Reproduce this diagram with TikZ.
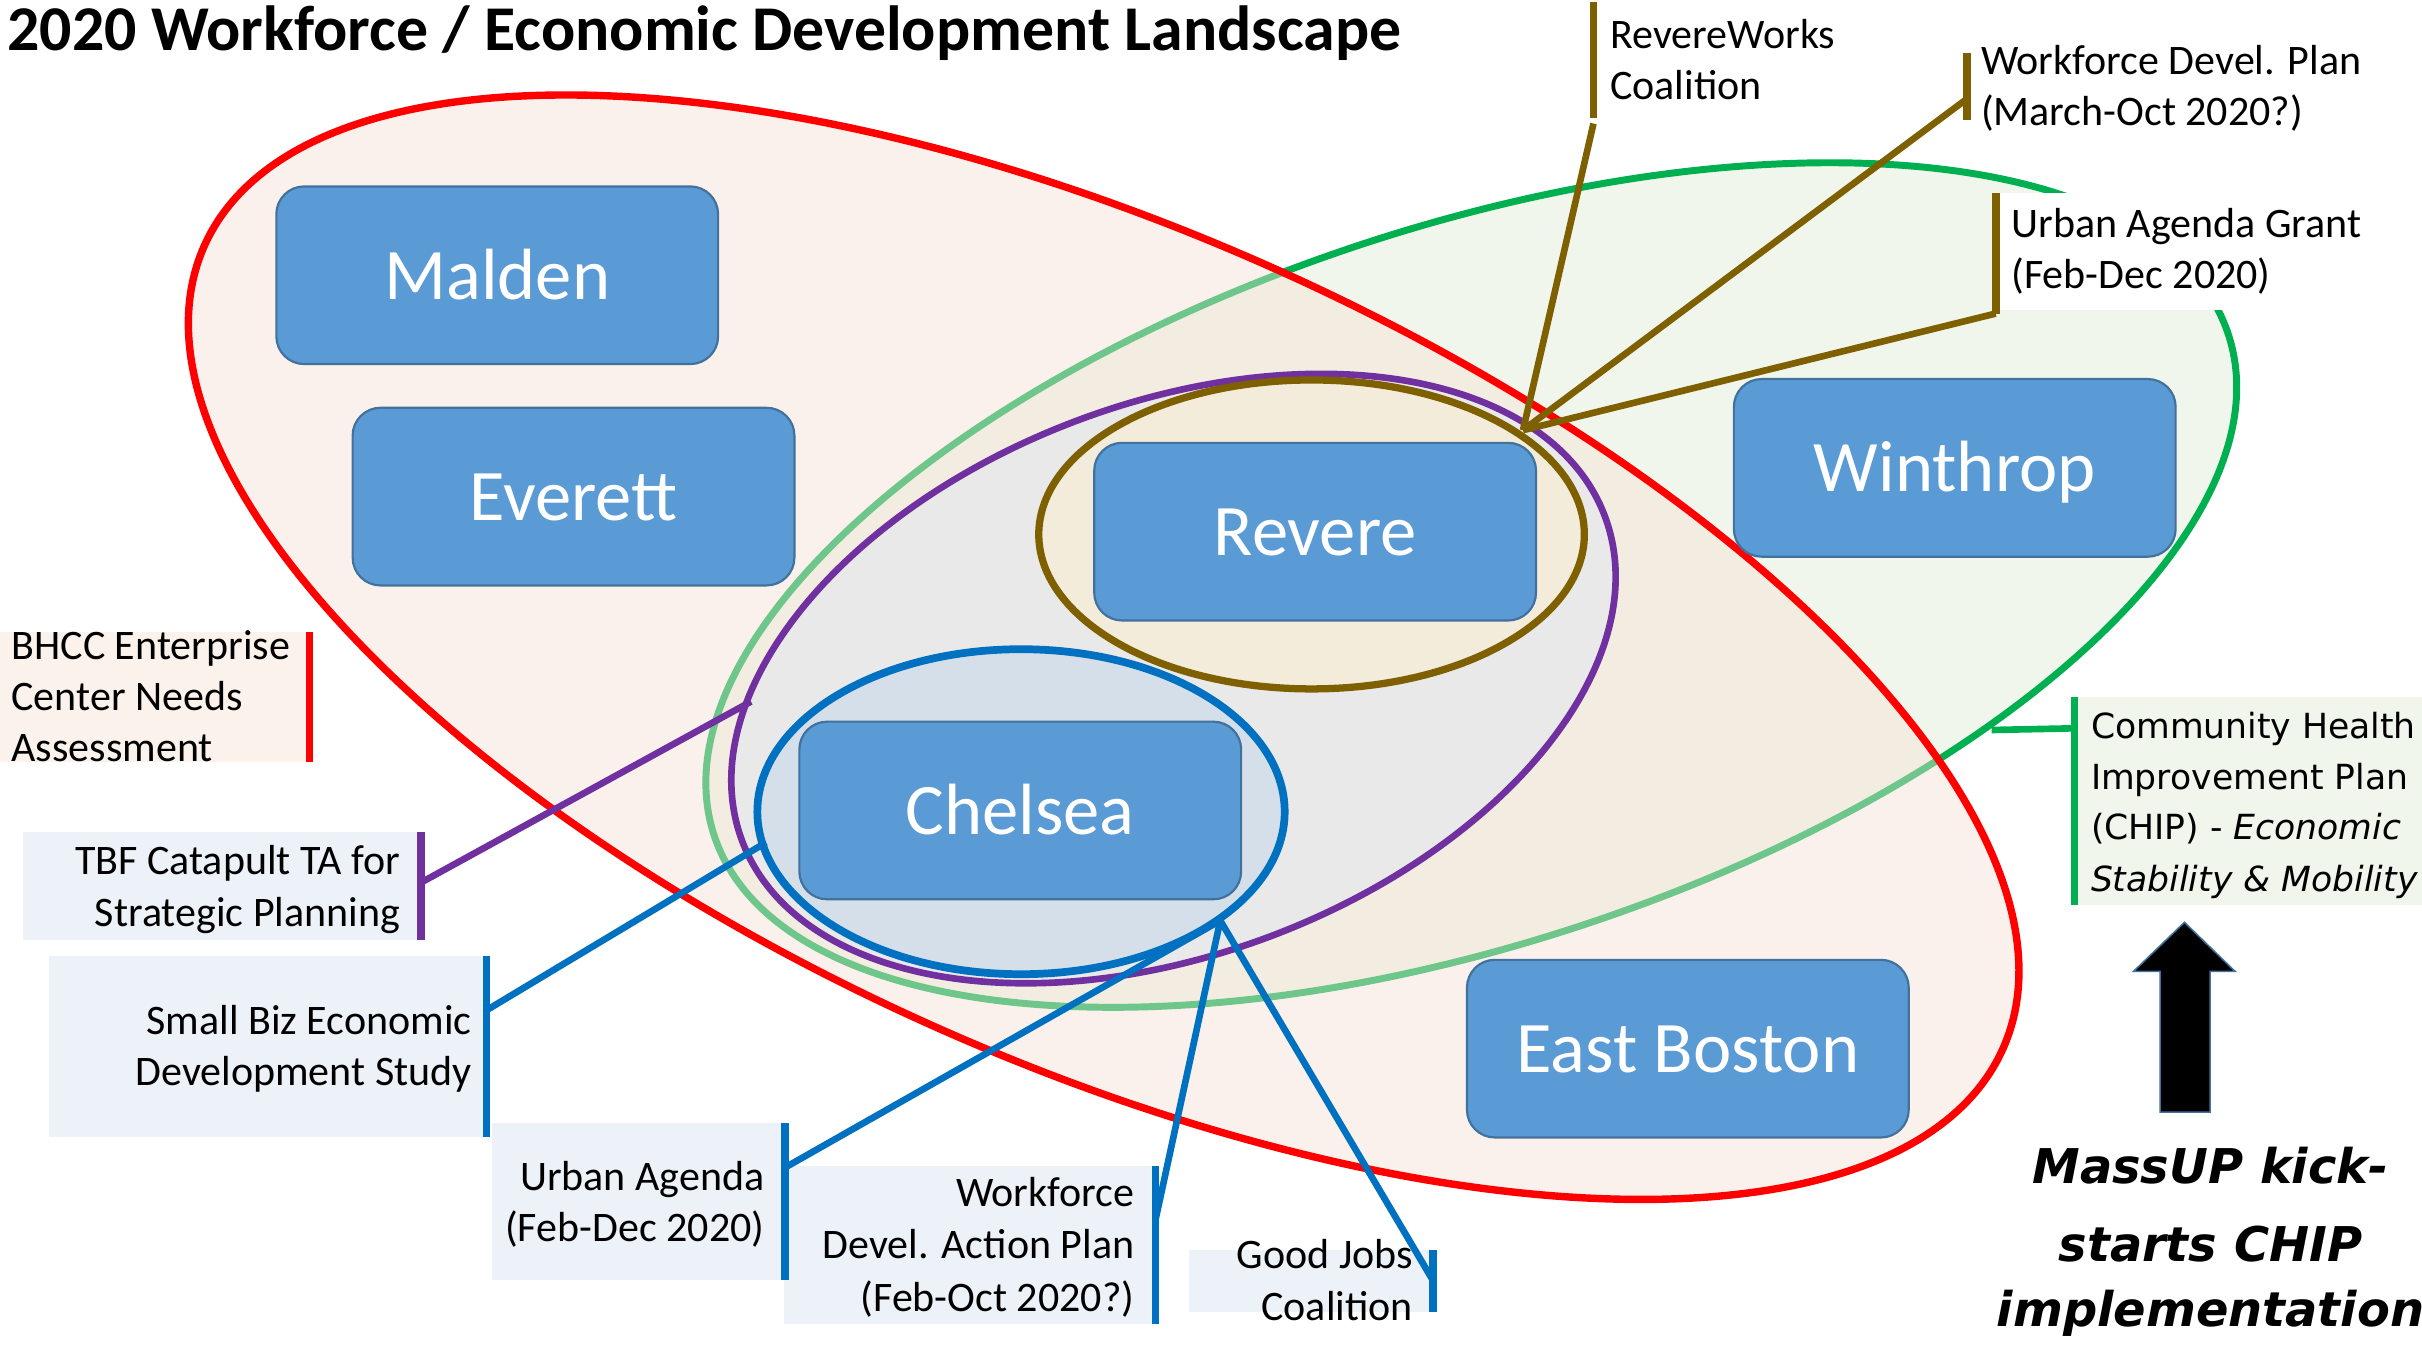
\documentclass[tikz,border=0pt]{standalone}
\usepackage{fontspec}
\setmainfont{Carlito}
\newfontfamily\verd{DejaVu Sans}
\definecolor{cityfill}{HTML}{5B9BD5}
\definecolor{cityline}{HTML}{41719C}
\definecolor{redline}{HTML}{FF0000}
\definecolor{greenline}{HTML}{00B050}
\definecolor{purpleline}{HTML}{7030A0}
\definecolor{oliveline}{HTML}{7F6000}
\definecolor{blueline}{HTML}{0070C0}
\definecolor{redfill}{RGB}{246,226,213}
\definecolor{greenfill}{RGB}{240,246,235}
\definecolor{purplefill}{RGB}{233,233,233}
\definecolor{olivefill}{RGB}{243,236,219}
\definecolor{bluefill}{RGB}{212,223,234}
\definecolor{labelblue}{RGB}{237,242,249}
\definecolor{labelpeach}{RGB}{251,242,236}
\definecolor{labelgreen}{RGB}{240,246,235}
\tikzset{
  city/.style={draw=cityline, line width=1.4pt, fill=cityfill, rounded corners=18pt,
    minimum width=286pt, minimum height=115pt, text=white,
    font=\fontsize{47}{56}\selectfont, text height=31pt, text depth=0pt, inner sep=0pt},
  lbl/.style={inner sep=0pt, font=\fontsize{27.2}{33}\selectfont},
  lblR/.style={lbl, anchor=base east},
  lblL/.style={lbl, anchor=base west},
  chiptxt/.style={inner sep=0pt, anchor=base west, font=\verd\fontsize{22.4}{28}\selectfont},
  massup/.style={inner sep=0pt, anchor=base, font=\verd\bfseries\itshape\fontsize{31}{37}\selectfont},
  barline/.style={line width=5pt},
  conn/.style={line width=4.3pt},
}
\begin{document}
\begin{tikzpicture}[x=1pt,y=-1pt]
\useasboundingbox (0,0) rectangle (1568,874);
\fill[white] (0,0) rectangle (1568,874);

% green ellipse
\path[fill=greenfill, draw=greenline, line width=4.5pt, rotate around={18.33:(952.5,378.75)}]
  (952.5,378.75) ellipse [x radius=516.3pt, y radius=231.7pt];
% red ellipse fill (semi-transparent)
\path[fill=redfill, fill opacity=0.45, rotate around={-24.05:(714.5,419)}]
  (714.5,419) ellipse [x radius=637.6pt, y radius=268.9pt];
% purple ellipse
\path[fill=purplefill, draw=purpleline, line width=4.3pt, rotate around={20.65:(759.7,439.3)}]
  (759.7,439.3) ellipse [x radius=298.4pt, y radius=178.3pt];
% olive ellipse
\path[fill=olivefill, draw=oliveline, line width=4.7pt]
  (849.1,346) ellipse [x radius=176.6pt, y radius=100pt];
% blue ellipse
\path[fill=bluefill, draw=blueline, line width=5pt]
  (661,525.5) ellipse [x radius=170.7pt, y radius=105.2pt];
% red ellipse outline
\path[draw=redline, line width=4.8pt, rotate around={-24.05:(714.5,419)}]
  (714.5,419) ellipse [x radius=637.6pt, y radius=268.9pt];

% cities
\node[city] (malden) at (321.9,178.2) {Malden};
\node[city] (everett) at (371.3,321.5) {Everett};
\node[city] (revere) at (851.4,344.2) {Revere};
\node[city] (chelsea) at (660.5,524.7) {Chelsea};
\node[city] (winthrop) at (1265.5,302.9) {Winthrop};
\node[city] (eastboston) at (1092.7,678.9) {East Boston};

% title
\node[anchor=base west, inner sep=0pt, font=\fontsize{41.3}{49}\selectfont\bfseries] (title)
  at (4.6,32.4) {2020 Workforce / Economic Development Landscape};

% label backgrounds
\fill[labelpeach] (0,409) rectangle (200.4,493);
\fill[labelblue] (14.9,538.8) rectangle (272.5,608.8);
\fill[labelblue] (31.4,618.6) rectangle (315,736.4);
\fill[labelblue] (318.5,727.3) rectangle (508,828.7);
\fill[labelblue] (507.6,754.9) rectangle (748,857.2);
\fill[labelblue] (769.8,809.3) rectangle (927.7,849.6);
\fill[labelgreen] (1343,451.2) rectangle (1568,585.6);
\fill[white] (1292,124.7) rectangle (1545,200.7);

% connector anchor points
\coordinate (oliveHub) at (986,278.5);
\coordinate (rwBar) at (1031.6,80);
\coordinate (wdpBar) at (1273.4,64);
\coordinate (uagBar) at (1292,203);
\coordinate (blueHub) at (790,596);
\coordinate (uaBar) at (508,756);
\coordinate (wdapBar) at (748,790);
\coordinate (gjBar) at (927.7,829);
\coordinate (sbBar) at (315,654);
\coordinate (sbTouch) at (495.9,545.4);
\coordinate (tbfBar) at (272.5,571.4);
\coordinate (tbfTouch) at (486.2,454.2);
\coordinate (chipBar) at (1343,471.5);
\coordinate (chipTouch) at (1289.4,472.6);

% bars
\draw[barline, oliveline] (1031.6,1) -- (1031.6,76.6);
\draw[barline, oliveline] (1273.4,34) -- (1273.4,77.7);
\draw[barline, oliveline] (1292,124.7) -- (1292,203);
\draw[barline, redline] (200.4,409) -- (200.4,493);
\draw[barline, purpleline] (272.5,538.8) -- (272.5,608.8);
\draw[barline, blueline] (315,618.6) -- (315,736.4);
\draw[barline, blueline] (508,727.3) -- (508,828.7);
\draw[barline, blueline] (748,754.9) -- (748,857.2);
\draw[barline, blueline] (927.7,809.3) -- (927.7,849.6);
\draw[barline, greenline] (1343,451.2) -- (1343,585.6);

% connectors
\draw[conn, oliveline] (rwBar) -- (oliveHub);
\draw[conn, oliveline] (wdpBar) -- (oliveHub);
\draw[conn, oliveline] (uagBar) -- (oliveHub);
\draw[conn, purpleline] (tbfBar) -- (tbfTouch);
\draw[conn, blueline] (sbBar) -- (sbTouch);
\draw[conn, blueline] (uaBar) -- (blueHub);
\draw[conn, blueline] (wdapBar) -- (blueHub);
\draw[conn, blueline] (gjBar) -- (blueHub);
\draw[conn, greenline] (chipBar) -- (chipTouch);

% labels
\node[lblL] (rw1) at (1042.3,31.3) {RevereWorks};
\node[lblL] (rw2) at (1042.3,64.3) {Coalition};
\node[lblL] (wdp1) at (1282.3,48) {Workforce Devel. Plan};
\node[lblL] (wdp2) at (1282.3,81) {(March-Oct 2020?)};
\node[lblL] (uag1) at (1302,154) {Urban Agenda Grant};
\node[lblL] (uag2) at (1302,186.7) {(Feb-Dec 2020)};
\node[lblL] (bhcc1) at (7.3,427) {BHCC Enterprise};
\node[lblL] (bhcc2) at (7.3,460) {Center Needs};
\node[lblL] (bhcc3) at (7.3,493) {Assessment};
\node[lblR] (tbf1) at (259.3,566) {TBF Catapult TA for};
\node[lblR] (tbf2) at (259.3,600) {Strategic Planning};
\node[lblR] (sb1) at (305.5,670) {Small Biz Economic};
\node[lblR] (sb2) at (305.5,703) {Development Study};
\node[lblR] (ua1) at (495.1,770.5) {Urban Agenda};
\node[lblR] (ua2) at (495.1,804) {(Feb-Dec 2020)};
\node[lblR] (wdap1) at (734.6,781) {Workforce};
\node[lblR] (wdap2) at (734.6,815) {Devel. Action Plan};
\node[lblR] (wdap3) at (734.6,849) {(Feb-Oct 2020?)};
\node[lblR] (gj1) at (915,821) {Good Jobs};
\node[lblR] (gj2) at (915,854.6) {Coalition};

\node[chiptxt] (chip1) at (1353.5,478) {Community Health};
\node[chiptxt] (chip2) at (1353.5,511) {Improvement Plan};
\node[chiptxt] (chip3) at (1353.5,543.6) {(CHIP) - \textit{Economic}};
\node[chiptxt] (chip4) at (1353.5,577) {\textit{Stability \& Mobility}};

% arrow
\draw[fill=black, draw=cityline, line width=1pt]
  (1414.2,597.1) -- (1447,628.9) -- (1430.8,628.9) -- (1430.8,720)
  -- (1398.4,720) -- (1398.4,628.9) -- (1381.2,628.9) -- cycle;

\node[massup] (mu1) at (1431,766) {MassUP kick-};
\node[massup] (mu2) at (1431,816.8) {starts CHIP};
\node[massup] (mu3) at (1431,858.5) {implementation};
\end{tikzpicture}
\end{document}
